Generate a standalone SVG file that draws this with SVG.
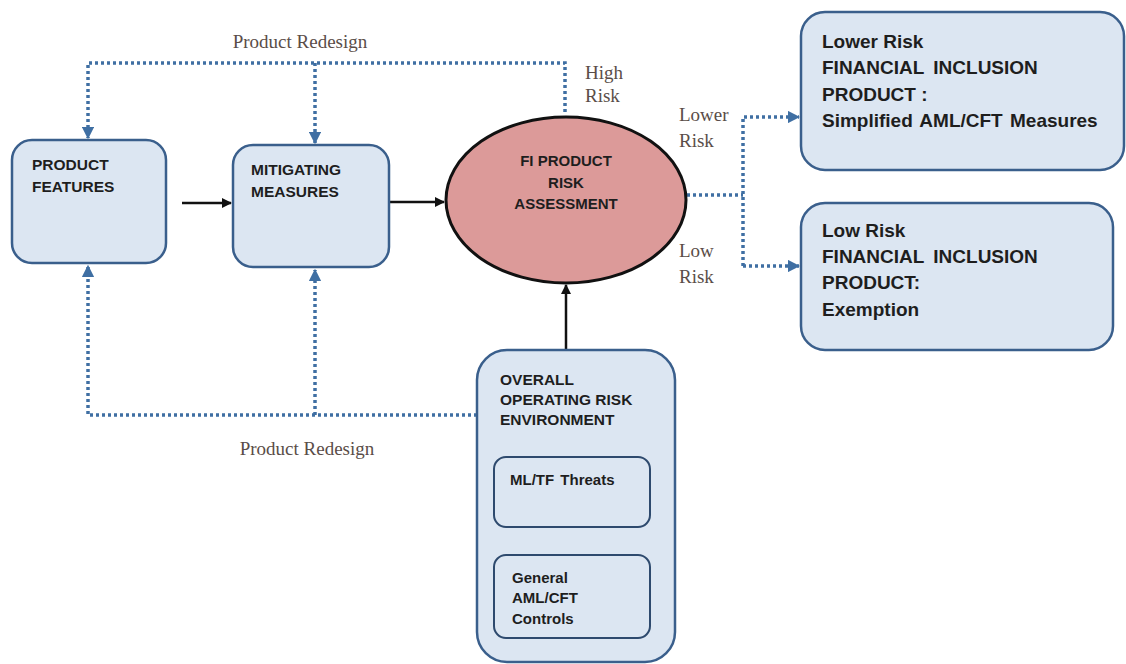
<svg xmlns="http://www.w3.org/2000/svg" width="1126" height="664" viewBox="0 0 1126 664">
<defs>
<style>
.box{fill:#dce6f2;stroke:#3a5f8c;stroke-width:2.5}
.inner{fill:#dce6f2;stroke:#2e4a6e;stroke-width:2}
.t{font-family:"Liberation Sans",Arial,sans-serif;font-weight:bold;fill:#1e1e1e}
.s{font-family:"Liberation Serif","Times New Roman",serif;fill:#5a4d48;font-size:19px}
.dot{fill:none;stroke:#3f6fa3;stroke-width:3.5;stroke-dasharray:3 3}
.solid{fill:none;stroke:#111;stroke-width:2.5}
</style>
<marker id="ab" viewBox="0 0 10 10" refX="9" refY="5" markerWidth="3.5" markerHeight="3.5" orient="auto" markerUnits="strokeWidth"><path d="M0,0L10,5L0,10z" fill="#3f6fa3"/></marker>
<marker id="ak" viewBox="0 0 10 10" refX="9" refY="5" markerWidth="4" markerHeight="4" orient="auto" markerUnits="strokeWidth"><path d="M0,0L10,5L0,10z" fill="#111"/></marker>
</defs>
<rect width="1126" height="664" fill="#fff"/>
<g id="connectors">
<path class="dot" d="M565,112 V63 H88 V138" marker-end="url(#ab)"/>
<path class="dot" d="M315,63 V143" marker-end="url(#ab)"/>
<path class="dot" d="M477,415 H88 V266" marker-end="url(#ab)"/>
<path class="dot" d="M315,415 V270" marker-end="url(#ab)"/>
<path class="dot" d="M687,195 H743"/>
<path class="dot" d="M743,266 V117 H799" marker-end="url(#ab)"/>
<path class="dot" d="M743,266 H799" marker-end="url(#ab)"/>
<path class="solid" d="M182,203 H231" marker-end="url(#ak)"/>
<path class="solid" d="M390,202 H444" marker-end="url(#ak)"/>
<path class="solid" d="M566,350 V285" marker-end="url(#ak)"/>
<text class="s" x="300" y="48" text-anchor="middle" font-size="21">Product Redesign</text>
<text class="s" x="307" y="455" text-anchor="middle" font-size="21">Product Redesign</text>
<text class="s" x="585" y="79" font-size="16">High</text>
<text class="s" x="585" y="102" font-size="16">Risk</text>
<text class="s" x="679" y="121">Lower</text>
<text class="s" x="679" y="147">Risk</text>
<text class="s" x="679" y="257">Low</text>
<text class="s" x="679" y="283">Risk</text>
</g>
<g id="product-features">
<rect class="box" x="12" y="140" width="154" height="123" rx="20"/>
<text class="t" font-size="15.5" x="32" y="170">PRODUCT</text>
<text class="t" font-size="15.5" x="32" y="192">FEATURES</text>
</g>
<g id="mitigating-measures">
<rect class="box" x="233" y="145" width="156" height="122" rx="20"/>
<text class="t" font-size="15.5" x="251" y="175">MITIGATING</text>
<text class="t" font-size="15.5" x="251" y="197">MEASURES</text>
</g>
<g id="fi-assessment">
<ellipse cx="566" cy="200" rx="120" ry="83" fill="#dc9a99" stroke="#111" stroke-width="3"/>
<text class="t" font-size="15" x="566" y="166" text-anchor="middle">FI PRODUCT</text>
<text class="t" font-size="15" x="566" y="188" text-anchor="middle">RISK</text>
<text class="t" font-size="15" x="566" y="209" text-anchor="middle">ASSESSMENT</text>
</g>
<g id="lower-risk">
<rect class="box" x="801" y="12" width="323" height="158" rx="24"/>
<text class="t" font-size="19" x="822" y="48">Lower Risk</text>
<text class="t" font-size="19" x="822" y="74" word-spacing="4">FINANCIAL INCLUSION</text>
<text class="t" font-size="19" x="822" y="101">PRODUCT :</text>
<text class="t" font-size="19" x="822" y="127" word-spacing="2">Simplified AML/CFT Measures</text>
</g>
<g id="low-risk">
<rect class="box" x="801" y="203" width="312" height="147" rx="24"/>
<text class="t" font-size="19" x="822" y="237">Low Risk</text>
<text class="t" font-size="19" x="822" y="263" word-spacing="4">FINANCIAL INCLUSION</text>
<text class="t" font-size="19" x="822" y="289">PRODUCT:</text>
<text class="t" font-size="19" x="822" y="316">Exemption</text>
</g>
<g id="overall-environment">
<rect class="box" x="477" y="350" width="198" height="312" rx="30"/>
<text class="t" font-size="15.5" x="500" y="385">OVERALL</text>
<text class="t" font-size="15.5" x="500" y="405">OPERATING RISK</text>
<text class="t" font-size="15.5" x="500" y="425">ENVIRONMENT</text>
</g>
<g id="ml-tf-threats">
<rect class="inner" x="494" y="457" width="156" height="70" rx="12"/>
<text class="t" font-size="15" x="510" y="485" word-spacing="2">ML/TF Threats</text>
</g>
<g id="general-controls">
<rect class="inner" x="494" y="555" width="156" height="83" rx="12"/>
<text class="t" font-size="15" x="512" y="583">General</text>
<text class="t" font-size="15" x="512" y="603">AML/CFT</text>
<text class="t" font-size="15" x="512" y="624">Controls</text>
</g>
</svg>
